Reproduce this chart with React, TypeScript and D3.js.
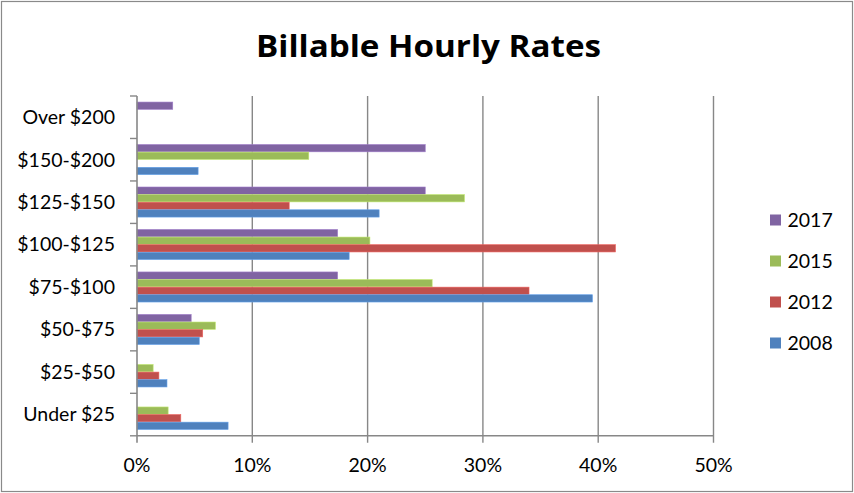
import React, { useEffect } from "react";
import * as d3 from "d3";

const categories = ["Over $200", "$150-$200", "$125-$150", "$100-$125", "$75-$100", "$50-$75", "$25-$50", "Under $25"];
const seriesNames = ["2017", "2015", "2012", "2008"];
const values2017 = [3.1, 25.0, 25.0, 17.4, 17.4, 4.7, 0, 0];
const values2015 = [0, 14.9, 28.4, 20.2, 25.6, 6.8, 1.4, 2.7];
const values2012 = [0, 0, 13.2, 41.5, 34.0, 5.7, 1.9, 3.8];
const values2008 = [0, 5.3, 21.0, 18.4, 39.5, 5.4, 2.6, 7.9];
const seriesColors = ["#8064A2", "#9BBB59", "#C0504D", "#4F81BD"];
const xTicks = [0, 10, 20, 30, 40, 50];

const W = 854;
const H = 493;
const left = 137;
const right = 713.5;
const top = 96;
const bottom = 435.8;
const FONT = "Lato, 'Open Sans', sans-serif";

export default function App() {
  useEffect(() => {
    document.body.style.margin = "0";
  }, []);

  const series = [values2017, values2015, values2012, values2008];
  const x = d3.scaleLinear().domain([0, 50]).range([left, right]);
  const y = d3.scaleBand<string>().domain(categories).range([top, bottom]).paddingInner(0.285).paddingOuter(0.1425);
  const sub = d3.scaleBand<string>().domain(seriesNames).range([0, y.bandwidth()]).padding(0);
  const step = (bottom - top) / categories.length;
  const boundaries = d3.range(categories.length + 1).map((i) => top + i * step);
  const axisColor = "#878787";

  const legendY = [220, 261, 302, 343];

  return (
    <svg width={W} height={H} style={{ display: "block", fontFamily: FONT }}>
      <rect x={0} y={0} width={W} height={H} fill="#fff" />
      <rect x={1.5} y={1.5} width={W - 3} height={H - 3} fill="none" stroke="#8a8a8a" strokeWidth={1.2} />
      <text x={428.5} y={56.7} textAnchor="middle" fontSize={30} fontWeight={700} fill="#000" fontFamily="'Open Sans', sans-serif" textLength={345} lengthAdjust="spacingAndGlyphs">
        Billable Hourly Rates
      </text>
      {xTicks.slice(1).map((t) => (
        <line key={"g" + t} x1={x(t)} x2={x(t)} y1={top} y2={bottom + 7} stroke={axisColor} strokeWidth={1.4} />
      ))}
      {series.map((vals, si) =>
        categories.map((c, ci) =>
          vals[ci] > 0 ? (
            <rect
              key={si + "-" + ci}
              x={x(0)}
              y={(y(c) as number) + (sub(seriesNames[si]) as number)}
              width={x(vals[ci]) - x(0)}
              height={sub.bandwidth() - 0.3}
              fill={seriesColors[si]}
              stroke={d3.color(seriesColors[si])!.brighter(0.6).toString()}
              strokeWidth={0.6}
            />
          ) : null
        )
      )}
      <line x1={left} x2={left} y1={top} y2={bottom + 7} stroke={axisColor} strokeWidth={1.6} />
      <line x1={left} x2={right} y1={bottom} y2={bottom} stroke={axisColor} strokeWidth={1.6} />
      {boundaries.map((b, i) => (
        <line key={"t" + i} x1={left - 7} x2={left} y1={b} y2={b} stroke={axisColor} strokeWidth={1.4} />
      ))}
      {xTicks.map((t) => (
        <text key={"xl" + t} x={x(t)} y={472} textAnchor="middle" fontSize={19.5} fill="#000">
          {t + "%"}
        </text>
      ))}
      {categories.map((c) => (
        <text
          key={"cl" + c}
          x={115}
          y={(y(c) as number) + y.bandwidth() / 2}
          dy="0.35em"
          textAnchor="end"
          fontSize={19.5}
          fill="#000"
        >
          {c}
        </text>
      ))}
      {seriesNames.map((s, i) => (
        <g key={"lg" + s}>
          <rect x={770} y={legendY[i] - 5.5} width={11} height={11} fill={seriesColors[i]} />
          <text x={787.5} y={legendY[i]} dy="0.35em" fontSize={19.5} fill="#000">
            {s}
          </text>
        </g>
      ))}
    </svg>
  );
}
